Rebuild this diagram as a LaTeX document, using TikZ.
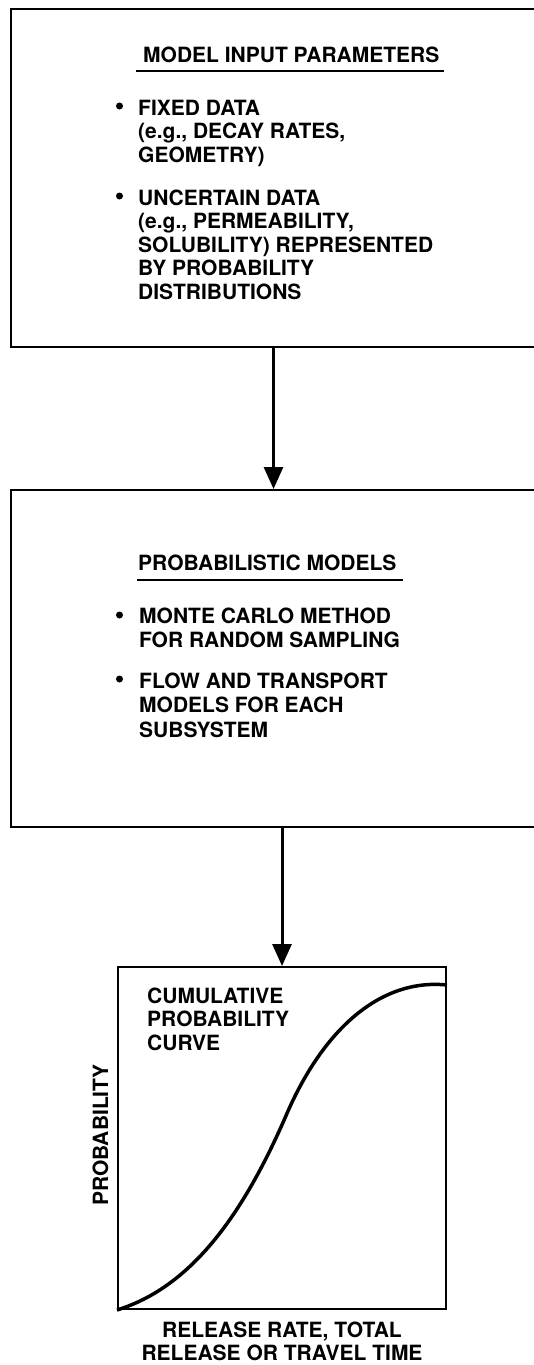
\documentclass[tikz,border=0pt]{standalone}
\usepackage{fontspec}
\setmainfont{TeX Gyre Heros}
\usetikzlibrary{arrows.meta, positioning}

\begin{document}
\begin{tikzpicture}[
    x=1pt, y=-1pt,
    box/.style={rectangle, draw=black, line width=2pt, inner sep=0pt},
    txt/.style={font={\fontsize{21}{23.5}\selectfont\bfseries}, inner sep=0pt, align=left},
    dot/.style={circle, fill=black, inner sep=0pt, minimum size=7pt},
    rule/.style={line width=1.6pt},
    arrow/.style={line width=3pt, -{Triangle[length=22pt, width=19pt]}},
    curve/.style={line width=3.5pt}
    ]
    \useasboundingbox (0,0) rectangle (534,1365);
    \clip (0,0) rectangle (534,1365);

    % boxes
    \node (inbox) [box, minimum width=525pt, minimum height=338pt] at (273.5,178) {};
    \node (modbox) [box, minimum width=525pt, minimum height=337pt, below=141pt of inbox] {};
    \node (chart) [box, minimum width=328pt, minimum height=342pt, below=138pt of modbox, xshift=8.5pt] {};

    % first box text (base = last line)
    \node (inhead) [txt, anchor=base west] at (143,62) {MODEL INPUT PARAMETERS};
    \draw [rule] ([shift={(-7,9)}]inhead.base west) -- ([shift={(4,9)}]inhead.base east);
    \node (fixed) [txt, anchor=base west] at (138,162) {FIXED DATA\\(e.g., DECAY RATES,\\GEOMETRY)};
    \node (uncertain) [txt, anchor=base west] at (138,299) {UNCERTAIN DATA\\(e.g., PERMEABILITY,\\SOLUBILITY) REPRESENTED\\BY PROBABILITY\\DISTRIBUTIONS};
    \node (dotfixed) [dot] at (119.5,106) {};
    \node (dotuncertain) [dot] at (119.5,196) {};

    % second box text
    \node (modhead) [txt, anchor=base west] at (138,570) {PROBABILISTIC MODELS};
    \draw [rule] ([shift={(-1,10)}]modhead.base west) -- ([shift={(6,10)}]modhead.base east);
    \node (monte) [txt, anchor=base west, font={\fontsize{21}{24}\selectfont\bfseries}] at (139,647) {MONTE CARLO METHOD\\FOR RANDOM SAMPLING};
    \node (flow) [txt, anchor=base west, font={\fontsize{21}{24.5}\selectfont\bfseries}] at (139,737) {FLOW AND TRANSPORT\\MODELS FOR EACH\\SUBSYSTEM};
    \node (dotmonte) [dot] at (119.5,615) {};
    \node (dotflow) [dot] at (119.5,679) {};

    % chart
    \node (cumul) [txt, anchor=base west] at (147,1050) {CUMULATIVE\\PROBABILITY\\CURVE};
    \node (yaxis) [txt, anchor=base, rotate=90] at (108,1135) {PROBABILITY};
    \node (xaxis) [txt, anchor=base, align=center, font={\fontsize{21}{23}\selectfont\bfseries}] at (282,1360) {RELEASE RATE, TOTAL\\RELEASE OR TRAVEL TIME};
    \draw [curve] (chart.south west) .. controls (188,1288) and (240,1221) .. (285,1118)
        .. controls (322,1030) and (380,978) .. ([yshift=-19pt]chart.north east);

    % arrows
    \draw [arrow] (inbox.south) -- (modbox.north);
    \draw [arrow] (modbox.south -| chart.north) -- (chart.north);

\end{tikzpicture}
\end{document}
